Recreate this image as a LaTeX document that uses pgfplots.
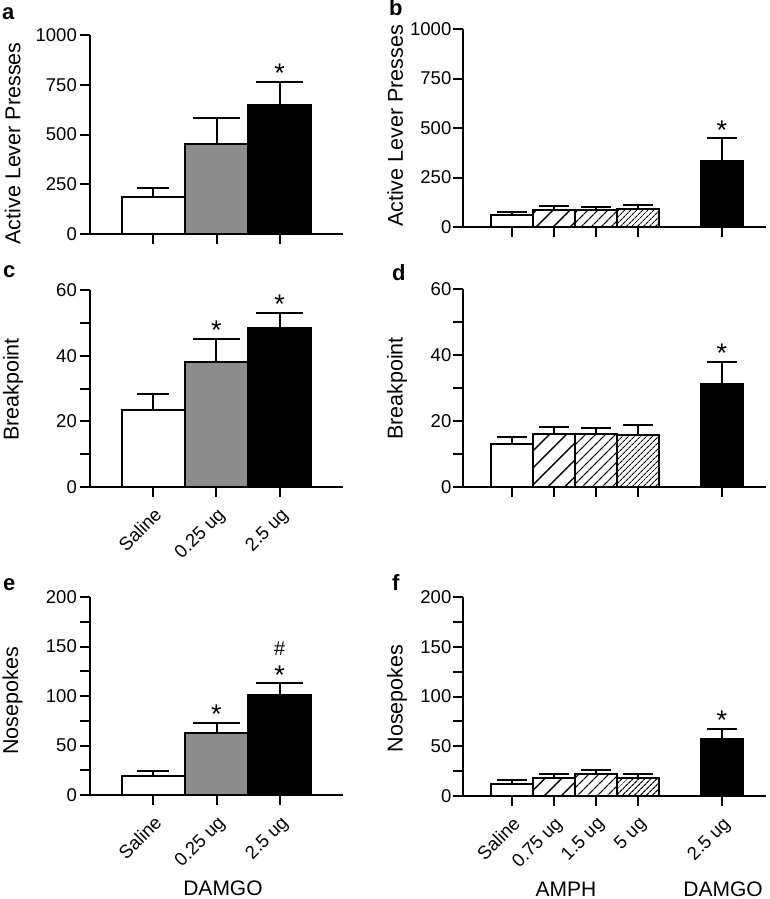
\documentclass[border=0pt]{standalone}
\usepackage{fontspec}
\setmainfont{Liberation Sans}
\usepackage{pgfplots}
\pgfplotsset{compat=1.18}
\usetikzlibrary{patterns.meta}

% error caps (drawn vertically: pgfplots rotates y error marks by 90 degrees)
\pgfdeclareplotmark{capL}{\pgfpathmoveto{\pgfqpoint{0pt}{30pt}}\pgfpathlineto{\pgfqpoint{0pt}{-17pt}}\pgfusepathqstroke}
\pgfdeclareplotmark{capS}{\pgfpathmoveto{\pgfqpoint{0pt}{16pt}}\pgfpathlineto{\pgfqpoint{0pt}{-16pt}}\pgfusepathqstroke}
\pgfdeclareplotmark{capB}{\pgfpathmoveto{\pgfqpoint{0pt}{19pt}}\pgfpathlineto{\pgfqpoint{0pt}{-11pt}}\pgfusepathqstroke}

\definecolor{midgray}{RGB}{140,140,140}

\tikzset{
  star/.style={font=\fontsize{27}{27}\selectfont, anchor=base, yshift=-1pt, inner sep=0pt},
}

\pgfplotsset{
  panel/.style={
    scale only axis, anchor=south west,
    axis lines=left, axis line style={-, line width=2pt, black},
    ymin=0, clip=false,
    tick align=outside,
    major tick length=10pt, minor tick length=10pt,
    tick style={line width=2pt, black},
    ticklabel style={font=\fontsize{18.5}{18.5}\selectfont},
    yticklabel style={inner sep=3pt},
    xticklabel style={inner sep=1pt},
    /pgf/number format/assume math mode=true,
    /pgf/number format/1000 sep={},
    ylabel style={font=\fontsize{21.5}{21.5}\selectfont, anchor=center},
    ybar, bar width=1, bar shift=0pt,
  },
  panelL/.style={panel, width=253pt, xmin=-1, xmax=3, xtick={0,1,2}},
  panelR/.style={panel, width=303pt, xmin=-1.16, xmax=6.05, xtick={0,1,2,3,5},
    yticklabel style={inner sep=1.5pt}},
  bar/.style={draw=black, line width=2pt,
    error bars/y dir=plus, error bars/y explicit,
    error bars/error bar style={line width=2pt, black},
    error bars/error mark options={line width=2pt, black}},
  rot/.style={xticklabel style={rotate=45, anchor=north east}, xticklabel shift=8pt},
  hatch1/.style={pattern={Lines[angle=45,distance=12pt,line width=1.4pt]}, pattern color=black},
  hatch2/.style={pattern={Lines[angle=45,distance=7.4pt,line width=1.4pt]}, pattern color=black},
  hatch3/.style={pattern={Lines[angle=45,distance=4pt,line width=1.2pt]}, pattern color=black},
}

\begin{document}
\begin{tikzpicture}
\useasboundingbox (0,0) rectangle (769pt,-899pt);

% ---------------- panel a ----------------
\begin{axis}[panelL, at={(90pt,-234pt)}, height=199pt, ymax=1000,
  ytick={0,250,500,750,1000}, xticklabels={},
  ylabel={Active Lever Presses},
  ylabel style={at={(axis description cs:-0.306,0.455)}}]
\addplot[bar, fill=white, error bars/error mark=capS] coordinates {(0,187) +- (0,43)};
\addplot[bar, fill=midgray, error bars/error mark=capL] coordinates {(1,451) +- (0,133)};
\addplot[bar, fill=black, error bars/error mark=capL] coordinates {(2,648) +- (0,117)};
\node[star] at (axis cs:2,765) {*};
\end{axis}

% ---------------- panel b ----------------
\begin{axis}[panelR, at={(463pt,-227pt)}, height=198pt, ymax=1000,
  ytick={0,250,500,750,1000}, xticklabels={},
  ylabel={Active Lever Presses},
  ylabel style={at={(axis description cs:-0.224,0.51)}}]
\addplot[bar, fill=white, error bars/error mark=capB] coordinates {(0,61) +- (0,16)};
\addplot[bar, hatch1, error bars/error mark=capB] coordinates {(1,86) +- (0,20)};
\addplot[bar, hatch2, error bars/error mark=capB] coordinates {(2,86) +- (0,17)};
\addplot[bar, hatch3, error bars/error mark=capB] coordinates {(3,89) +- (0,21)};
\addplot[bar, fill=black, error bars/error mark=capB] coordinates {(5,335) +- (0,113)};
\node[star] at (axis cs:5,448) {*};
\end{axis}

% ---------------- panel c ----------------
\begin{axis}[panelL, rot, at={(90pt,-487pt)}, height=197pt, ymax=60,
  ytick={0,20,40,60}, minor ytick={10,30,50},
  xticklabels={Saline,0.25 ug,2.5 ug},
  ylabel={Breakpoint},
  ylabel style={at={(axis description cs:-0.304,0.495)}}]
\addplot[bar, fill=white, error bars/error mark=capS] coordinates {(0,23.5) +- (0,4.8)};
\addplot[bar, fill=midgray, error bars/error mark=capL] coordinates {(1,38.1) +- (0,7.0)};
\addplot[bar, fill=black, error bars/error mark=capL] coordinates {(2,48.4) +- (0,4.6)};
\node[star] at (axis cs:1,45.1) {*};
\node[star] at (axis cs:2,53.0) {*};
\end{axis}

% ---------------- panel d ----------------
\begin{axis}[panelR, at={(463pt,-487pt)}, height=198pt, ymax=60,
  ytick={0,20,40,60}, minor ytick={10,30,50}, xticklabels={},
  ylabel={Breakpoint},
  ylabel style={at={(axis description cs:-0.218,0.497)}}]
\addplot[bar, fill=white, error bars/error mark=capB] coordinates {(0,13.0) +- (0,2.2)};
\addplot[bar, hatch1, error bars/error mark=capB] coordinates {(1,16.1) +- (0,2.1)};
\addplot[bar, hatch2, error bars/error mark=capB] coordinates {(2,16.1) +- (0,1.8)};
\addplot[bar, hatch3, error bars/error mark=capB] coordinates {(3,15.8) +- (0,3.0)};
\addplot[bar, fill=black, error bars/error mark=capB] coordinates {(5,31.2) +- (0,6.7)};
\node[star] at (axis cs:5,37.9) {*};
\end{axis}

% ---------------- panel e ----------------
\begin{axis}[panelL, rot, at={(90pt,-795pt)}, height=198pt, ymax=200,
  ytick={0,50,100,150,200}, minor ytick={25,75,125,175},
  xticklabels={Saline,0.25 ug,2.5 ug},
  ylabel={Nosepokes},
  ylabel style={at={(axis description cs:-0.306,0.475)}}]
\addplot[bar, fill=white, error bars/error mark=capS] coordinates {(0,19.5) +- (0,4.7)};
\addplot[bar, fill=midgray, error bars/error mark=capL] coordinates {(1,62.3) +- (0,10.8)};
\addplot[bar, fill=black, error bars/error mark=capL] coordinates {(2,101) +- (0,11.8)};
\node[star] at (axis cs:1,73.1) {*};
\node[star] at (axis cs:2,112.8) {*};
\node[font=\fontsize{20}{20}\selectfont, anchor=center, yshift=35pt, inner sep=0pt] at (axis cs:2,112.8) {\#};
\end{axis}

% ---------------- panel f ----------------
\begin{axis}[panelR, rot, at={(463pt,-796pt)}, height=199pt, ymax=200,
  ytick={0,50,100,150,200}, minor ytick={25,75,125,175},
  xticklabels={Saline,0.75 ug,1.5 ug,5 ug,2.5 ug},
  ylabel={Nosepokes},
  ylabel style={at={(axis description cs:-0.218,0.49)}}]
\addplot[bar, fill=white, error bars/error mark=capB] coordinates {(0,12.5) +- (0,3.4)};
\addplot[bar, hatch1, error bars/error mark=capB] coordinates {(1,18.2) +- (0,4.4)};
\addplot[bar, hatch2, error bars/error mark=capB] coordinates {(2,21.9) +- (0,4.0)};
\addplot[bar, hatch3, error bars/error mark=capB] coordinates {(3,18.2) +- (0,4.4)};
\addplot[bar, fill=black, error bars/error mark=capB] coordinates {(5,57.3) +- (0,10.1)};
\node[star] at (axis cs:5,67.4) {*};
\end{axis}

% panel letters
\begin{scope}[every node/.style={anchor=base west, inner sep=0pt, font=\bfseries\fontsize{22}{22}\selectfont}]
\node at (2pt,-20pt) {a};
\node at (389pt,-16pt) {b};
\node at (3pt,-277pt) {c};
\node at (392pt,-280pt) {d};
\node at (3pt,-590pt) {e};
\node at (392pt,-590pt) {f};
\end{scope}

% group labels
\begin{scope}[every node/.style={inner sep=0pt, font=\fontsize{21}{21}\selectfont}]
\node at (223pt,-888pt) {DAMGO};
\node at (566pt,-889pt) {AMPH};
\node at (723pt,-889pt) {DAMGO};
\end{scope}
\end{tikzpicture}
\end{document}
